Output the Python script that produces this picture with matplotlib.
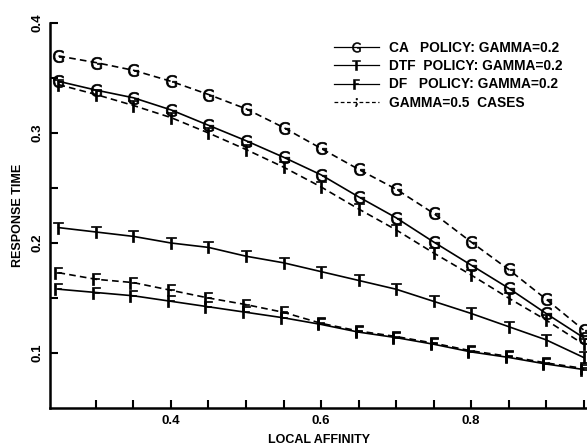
import matplotlib
matplotlib.use("Agg")
import matplotlib.pyplot as plt
from matplotlib.lines import Line2D
import numpy as np

plt.rcParams['font.family'] = ['Liberation Sans', 'DejaVu Sans']

# local affinity values
affinity = [0.25, 0.30, 0.35, 0.40, 0.45, 0.50, 0.55, 0.60,
            0.65, 0.70, 0.75, 0.80, 0.85, 0.90, 0.95]

# gamma = 0.2
ca_02 = [0.347, 0.339, 0.332, 0.321, 0.307, 0.293, 0.278, 0.262,
         0.242, 0.223, 0.201, 0.180, 0.159, 0.136, 0.114]
dtf_02 = [0.214, 0.210, 0.206, 0.200, 0.196, 0.188, 0.182, 0.174,
          0.166, 0.158, 0.147, 0.136, 0.124, 0.112, 0.096]
df_02 = [0.158, 0.155, 0.152, 0.147, 0.142, 0.137, 0.132, 0.126,
         0.119, 0.114, 0.108, 0.101, 0.096, 0.090, 0.085]

# gamma = 0.5
ca_05 = [0.370, 0.364, 0.357, 0.347, 0.335, 0.322, 0.305, 0.286,
         0.267, 0.249, 0.227, 0.201, 0.176, 0.149, 0.121]
dtf_05 = [0.344, 0.335, 0.325, 0.314, 0.300, 0.285, 0.269, 0.251,
          0.231, 0.212, 0.191, 0.171, 0.150, 0.130, 0.108]
df_05 = [0.173, 0.167, 0.164, 0.157, 0.150, 0.144, 0.137, 0.127,
         0.120, 0.115, 0.109, 0.102, 0.097, 0.091, 0.086]

legend_labels = ["CA   POLICY: GAMMA=0.2", "DTF  POLICY: GAMMA=0.2",
                 "DF   POLICY: GAMMA=0.2", "GAMMA=0.5  CASES"]

fig = plt.figure(figsize=(5.87, 4.45), dpi=100)
ax = fig.add_axes([50 / 587, 1 - 408 / 445, 537 / 587, 385 / 445])

lw = 1.2
ms = 9
dash = (0, (4, 2.5))
mk = dict(ms=ms, mew=0.5, clip_on=False)

ax.plot(affinity, ca_05, color='black', lw=lw, ls=dash, marker=r'$\mathsf{G}$', **mk)
ax.plot(affinity, dtf_05, color='black', lw=lw, ls=dash, marker=r'$\mathsf{T}$', **mk)
ax.plot(affinity, df_05, color='black', lw=lw, ls=dash, marker=r'$\mathsf{F}$', **mk)
ax.plot(affinity, ca_02, color='black', lw=lw, marker=r'$\mathsf{G}$', **mk)
ax.plot(affinity, dtf_02, color='black', lw=lw, marker=r'$\mathsf{T}$', **mk)
ax.plot(affinity, df_02, color='black', lw=lw, marker=r'$\mathsf{F}$', **mk)

ax.set_xlim(0.4 - 121 / 750, 0.4 + 416 / 750)
ax.set_ylim(0.05, 0.4)

for s in ['top', 'right']:
    ax.spines[s].set_visible(False)
for s in ['left', 'bottom']:
    ax.spines[s].set_linewidth(1.8)

xt = np.round(np.arange(0.30, 0.951, 0.05), 2)
ax.set_xticks(xt)
ax.set_xticklabels(['0.4' if abs(v - 0.4) < 1e-6 else '0.6' if abs(v - 0.6) < 1e-6
                    else '0.8' if abs(v - 0.8) < 1e-6 else '' for v in xt])
yt = np.round(np.arange(0.1, 0.401, 0.05), 2)
ax.set_yticks(yt)
ax.set_yticklabels(['%.1f' % v if abs(v * 10 - round(v * 10)) < 1e-6 else '' for v in yt],
                   rotation=90, va='center')
ax.tick_params(direction='in', length=6, width=1.5, labelsize=9.5, pad=5)
for lab in ax.get_xticklabels() + ax.get_yticklabels():
    lab.set_fontweight('bold')

ax.set_xlabel("LOCAL AFFINITY", fontsize=9, fontweight='bold', labelpad=5)
ax.set_ylabel("RESPONSE TIME", fontsize=9, fontweight='bold', labelpad=5)

handles = [
    Line2D([], [], color='black', lw=0.9, marker=r'$\mathsf{G}$', ms=7, mew=0.4),
    Line2D([], [], color='black', lw=0.9, marker=r'$\mathsf{T}$', ms=7, mew=0.4),
    Line2D([], [], color='black', lw=0.9, marker=r'$\mathsf{F}$', ms=7, mew=0.4),
    Line2D([], [], color='black', lw=0.9, ls=(0, (3, 2)), marker=r'$;$', ms=6, mew=0.4),
]
leg = ax.legend(handles, legend_labels, loc='upper left', bbox_to_anchor=(0.505, 0.985),
                frameon=False, handlelength=3.3, handletextpad=0.7, labelspacing=0.3,
                prop={'size': 9.9, 'weight': 'bold'})

fig.savefig("out.png", dpi=100)
